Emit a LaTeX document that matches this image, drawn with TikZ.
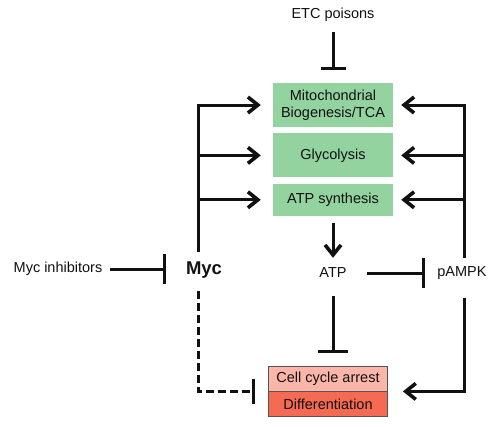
\documentclass[tikz,border=0pt]{standalone}
\usepackage{fontspec}
\setmainfont{Liberation Sans}
\usetikzlibrary{arrows.meta,positioning}
\definecolor{Leaf}{HTML}{92D3A0}
\definecolor{Pale}{HTML}{FBB6A9}
\definecolor{Coral}{HTML}{F46A52}
\definecolor{Ink}{HTML}{111111}
\definecolor{Edge}{HTML}{555555}

\begin{document}
\begin{tikzpicture}[x=1pt,y=-1pt,
  every node/.style={font=\fontsize{14.5}{17.5}\selectfont,inner sep=0pt,text=Ink},
  link/.style={line width=3pt,Ink},
  act/.style={link,-{Straight Barb[length=10pt,width=16pt,line width=3.6pt]}},
  inh/.style={link,-{Bar[width=30pt]}},
  box/.style={fill=Leaf,minimum width=120pt,align=center},
  fate/.style={draw=Edge,line width=0.8pt,minimum width=119pt,minimum height=25pt}]
  \useasboundingbox (0,0) rectangle (500,426);
  % metabolic boxes
  \node (etc) at (333,15) {ETC poisons};
  \node[box,minimum height=44pt] (mito) at (333,105) {Mitochondrial\\Biogenesis/TCA};
  \node[box,minimum height=44pt,below=6pt of mito] (gly) {Glycolysis};
  \node[box,minimum height=32pt,below=6pt of gly] (atps) {ATP synthesis};
  % regulators
  \node (inhib) at (58,269) {Myc inhibitors};
  \node[font=\fontsize{18.5}{20}\selectfont\bfseries] (myc) at (204,270) {Myc};
  \node (atp) at (333,273) {ATP};
  \node (ampk) at (462,273) {pAMPK};
  % outcomes
  \node[fate,fill=Pale] (arrest) at (328,378.5) {Cell cycle arrest};
  \node[fate,fill=Coral,below=0pt of arrest] (diff) {Differentiation};
  % bus ends
  \coordinate (lbus) at (198,252);
  \coordinate (ldash) at (198,291);
  \coordinate (rbus) at (464,258);
  \coordinate (rdown) at (464,298);

  \draw[inh,-{Bar[width=25pt]},shorten <=10pt,shorten >=13pt] (etc) -- (mito);
  \draw[act,shorten >=12pt] (lbus) |- (mito.west);
  \draw[act,shorten >=12pt] (lbus |- gly.west) -- (gly.west);
  \draw[act,shorten >=12pt] (lbus |- atps.west) -- (atps.west);
  \draw[act,shorten >=8pt] (rbus) |- (mito.east);
  \draw[act,shorten >=8pt] (rbus |- gly.east) -- (gly.east);
  \draw[act,shorten >=8pt] (rbus |- atps.east) -- (atps.east);
  \draw[act,shorten <=7pt,shorten >=10pt] (atps) -- (atp);
  \draw[inh,shorten <=7pt,shorten >=20pt] (inhib.east) -- (inhib.east -| myc.west);
  \draw[inh,shorten <=20pt,shorten >=12pt] (atp.east) -- (atp.east -| ampk.west);
  \draw[inh,shorten <=18pt,shorten >=13pt] (atp.south) -- (atp.south |- arrest.north);
  \draw[inh,-{Bar[width=25pt]},dash pattern=on 8pt off 4pt,shorten >=13pt] (ldash) |- (arrest.south west);
  \draw[act,shorten >=15pt] (rdown) |- (arrest.south east);
\end{tikzpicture}
\end{document}
